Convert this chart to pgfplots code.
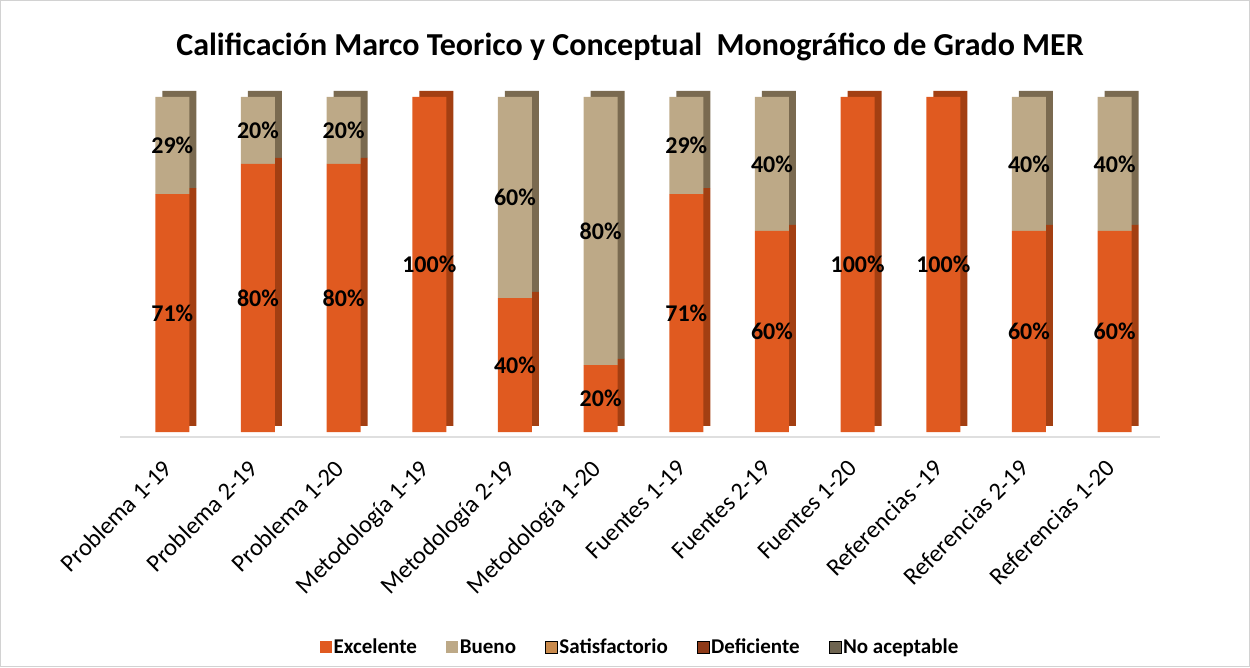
\documentclass[border=0pt]{standalone}
\usepackage{pgfplots}
\pgfplotsset{compat=1.18}
\usepackage{pgfplotstable}
\usepackage{fontspec}
\setmainfont{Carlito}
\definecolor{exc}{HTML}{E05A20}
\definecolor{excside}{HTML}{A33F12}
\definecolor{bue}{HTML}{BDA987}
\definecolor{bueside}{HTML}{7A6A50}
\definecolor{sat}{HTML}{C98A4C}
\definecolor{def}{HTML}{8E3A18}
\definecolor{noa}{HTML}{6E6450}
\pgfplotstableread{
x exc bue
0 71 29
1 80 20
2 80 20
3 100 0
4 40 60
5 20 80
6 71 29
7 60 40
8 100 0
9 100 0
10 60 40
11 60 40
}\data
\pgfplotsset{base/.style={at={(120pt,235pt)}, anchor=south west, scale only axis,
  width=1040pt, height=335pt, xmin=-0.61, xmax=11.53, ymin=0, ymax=100, clip=false,
  axis y line=none, axis x line=bottom, x axis line style={draw=none}, ytick=\empty}}
\begin{document}
\begin{tikzpicture}
\useasboundingbox (0,0) rectangle (1250pt,667pt);
\draw[gray!35] (0.5pt,0.5pt) rectangle (1249.5pt,666.5pt);
\node[font=\fontsize{32}{38}\selectfont\bfseries] at (630pt,620pt) {Calificación Marco Teorico y Conceptual\ \ Monográfico de Grado MER};
% back (3D sides)
\begin{axis}[base, ybar stacked, bar width=34pt, xtick=\empty]
\draw[gray!25, line width=2.5pt] ([yshift=-5pt]rel axis cs:0,0) -- ([yshift=-5pt]rel axis cs:1,0);
\addplot[fill=excside, draw=none, xshift=7pt, yshift=6pt] table[x=x,y=exc]{\data};
\addplot[fill=bueside, draw=none, xshift=7pt, yshift=6pt] table[x=x,y=bue]{\data};
\end{axis}
% front
\begin{axis}[base, ybar stacked, bar width=34pt,
  xtick={0,...,11}, xtick style={draw=none},
  xticklabels={Problema 1-19,Problema 2-19,Problema 1-20,Metodología 1-19,Metodología 2-19,Metodología 1-20,Fuentes 1-19,Fuentes 2-19,Fuentes 1-20,Referencias -19,Referencias 2-19,Referencias 1-20},
  x tick label style={rotate=45, anchor=north east, font=\fontsize{24.5}{29}\selectfont, xshift=-21pt, yshift=-6pt},
  legend columns=5,
  legend style={at={(0.5,-0.642)}, anchor=center, draw=none, font=\fontsize{21}{25}\selectfont\bfseries,
    /tikz/every even column/.append style={column sep=27pt}},
  legend image code/.code={\fill[#1] (0pt,-6pt) rectangle (12pt,6pt);}]
\addplot[fill=exc, draw=none] table[x=x,y=exc]{\data};
\addplot[fill=bue, draw=none] table[x=x,y=bue]{\data};
\addlegendimage{fill=sat}
\addlegendimage{fill=def}
\addlegendimage{fill=noa}
\legend{Excelente,Bueno,Satisfactorio,Deficiente,No aceptable}
\end{axis}
% labels
\begin{axis}[base, xtick=\empty]
\addplot[only marks, mark=none, nodes near coords, point meta=explicit symbolic,
  every node near coord/.style={font=\fontsize{24}{28}\selectfont\bfseries, anchor=center, text=black}]
coordinates {
(0,35.5) [71\%] (0,85.5) [29\%]
(1,40) [80\%] (1,90) [20\%]
(2,40) [80\%] (2,90) [20\%]
(3,50) [100\%]
(4,20) [40\%] (4,70) [60\%]
(5,10) [20\%] (5,60) [80\%]
(6,35.5) [71\%] (6,85.5) [29\%]
(7,30) [60\%] (7,80) [40\%]
(8,50) [100\%]
(9,50) [100\%]
(10,30) [60\%] (10,80) [40\%]
(11,30) [60\%] (11,80) [40\%]
};
\end{axis}
\end{tikzpicture}
\end{document}
